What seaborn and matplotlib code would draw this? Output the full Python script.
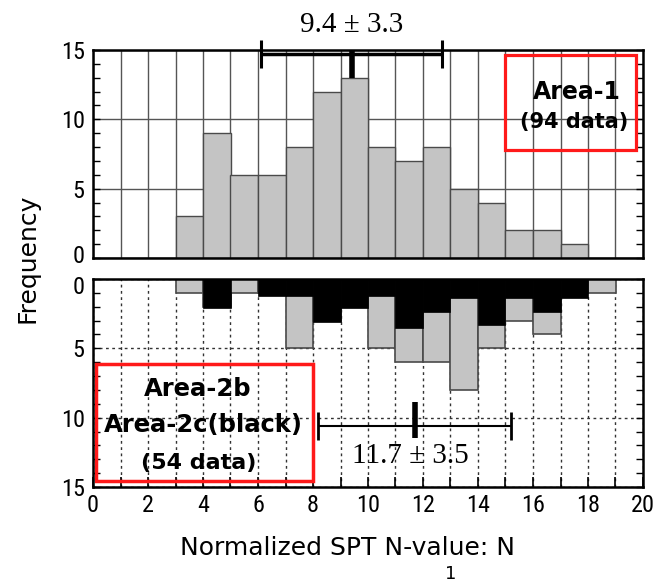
import numpy as np
import matplotlib
matplotlib.use("Agg")
import matplotlib.pyplot as plt
from matplotlib.patches import Rectangle
from matplotlib.ticker import MultipleLocator, FixedLocator
from matplotlib.transforms import ScaledTranslation
from matplotlib import font_manager as fm
import seaborn as sns

# ---------------- data ----------------
bin_edges = list(range(0, 21))
area1_counts = [0, 0, 0, 3, 9, 6, 6, 8, 12, 13, 8, 7, 8, 5, 4, 2, 2, 1, 0, 0]
area2_total = [0, 0, 0, 1, 2, 1, 1, 5, 3, 2, 5, 6, 6, 8, 5, 3, 4, 1, 1, 0]
area2c_black = [0, 0, 0, 0, 2.1, 0, 1.25, 1.2, 3.1, 2.1, 1.25, 3.55, 2.4, 1.4, 3.3, 1.4, 2.35, 1.4, 0, 0]
area1_mean, area1_sd = 9.4, 3.3
area2_mean, area2_sd = 11.7, 3.5
yticks = [0, 5, 10, 15]
xticks = list(range(0, 21, 2))

centers = [e + 0.5 for e in bin_edges[:-1]]

sns.set_style("white")
plt.rcParams['font.family'] = ['DejaVu Sans']
for k in ('text.color', 'axes.labelcolor', 'xtick.color', 'ytick.color'):
    plt.rcParams[k] = 'black'

# pick a narrow font for tick labels if one is installed
names = {f.name for f in fm.fontManager.ttflist}
narrow = None
for cand in ['Liberation Sans Narrow', 'Roboto Condensed', 'DejaVu Sans Condensed',
             'Open Sans Condensed', 'Noto Sans Display']:
    if cand in names:
        narrow = cand
        break
TICKFONT = [narrow, 'DejaVu Sans'] if narrow else ['DejaVu Sans']
condensed_ok = narrow is not None
SERIF = ['Liberation Serif', 'DejaVu Serif']
TICKSIZE = 17.5 if condensed_ok else 14

GRAY = '#c4c4c4'
EDGE = '#4a4a4a'

fig = plt.figure(figsize=(6.57, 5.82), dpi=100)
W, H = 657, 582
ax1 = fig.add_axes([93 / W, 1 - 258 / H, 550 / W, 208 / H])
ax2 = fig.add_axes([93 / W, 1 - 487 / H, 550 / W, 208 / H])

# ---------------- top panel ----------------
sns.histplot(x=centers, weights=area1_counts, bins=bin_edges, ax=ax1,
             color=GRAY, edgecolor=EDGE, linewidth=1.0, alpha=1)
ax1.set_xlim(0, 20)
ax1.set_ylim(0, 15)
ax1.set_axisbelow(True)
ax1.xaxis.set_major_locator(MultipleLocator(1))
ax1.yaxis.set_major_locator(FixedLocator(yticks))
ax1.yaxis.set_minor_locator(MultipleLocator(1))
ax1.grid(True, axis='both', which='major', color='#555555', lw=1.0, ls='-')
ax1.tick_params(axis='x', which='both', bottom=False, top=False, labelbottom=False)
ax1.tick_params(axis='y', which='both', direction='in', left=True, right=True,
                length=5, width=1, labelsize=TICKSIZE, pad=6)
ax1.set_xlabel('')
ax1.set_ylabel('')

eb = ax1.errorbar(area1_mean, 14.7, xerr=area1_sd, color='black', lw=2.5,
                  capsize=10, capthick=2.2, zorder=6)
for art in eb.lines[1] + eb.lines[2]:
    art.set_clip_on(False)
ax1.plot([area1_mean, area1_mean], [12.95, 15.0], color='black', lw=4,
         solid_capstyle='butt', clip_on=False, zorder=6)
ax1.text(area1_mean, 16.8, f'{area1_mean} ± {area1_sd}', ha='center', va='center',
         family=SERIF, fontsize=21, clip_on=False)

ax1.add_patch(Rectangle((15.0, 7.8), 4.75, 6.85, fill=False, ec='#ff1a1a', lw=2.3, zorder=7))
ax1.text(17.6, 12.0, 'Area-1', ha='center', va='center', fontsize=17, fontweight='bold', zorder=8)
ax1.text(17.5, 9.8, '(94 data)', ha='center', va='center', fontsize=15, fontweight='bold', zorder=8)

# ---------------- bottom panel ----------------
sns.histplot(x=centers, weights=area2_total, bins=bin_edges, ax=ax2,
             color=GRAY, edgecolor=EDGE, linewidth=1.2, alpha=1)
sns.histplot(x=centers, weights=area2c_black, bins=bin_edges, ax=ax2,
             color='black', edgecolor='black', linewidth=0.5, alpha=1)
ax2.set_xlim(0, 20)
ax2.set_ylim(15, 0)
ax2.set_axisbelow(True)
ax2.xaxis.set_major_locator(FixedLocator(xticks))
ax2.xaxis.set_minor_locator(MultipleLocator(1))
ax2.yaxis.set_major_locator(FixedLocator(yticks))
ax2.yaxis.set_minor_locator(MultipleLocator(1))
ax2.grid(True, axis='x', which='both', color='#333333', lw=1.0, ls=(0, (2, 2.5)))
ax2.grid(True, axis='y', which='major', color='#333333', lw=1.0, ls=(0, (2, 2.5)))
ax2.tick_params(axis='x', which='both', direction='in', bottom=True, top=False,
                length=7, width=1.2, labelsize=TICKSIZE, pad=5)
ax2.tick_params(axis='y', which='both', direction='in', left=True, right=True,
                length=5, width=1, labelsize=TICKSIZE, pad=6)
ax2.set_xlabel('')
ax2.set_ylabel('')

eb2 = ax2.errorbar(area2_mean, 10.6, xerr=area2_sd, color='black', lw=1.5,
                   capsize=10, capthick=2.0, zorder=6)
ax2.plot([area2_mean, area2_mean], [8.9, 11.5], color='black', lw=4,
         solid_capstyle='butt', zorder=6)
ax2.text(11.55, 12.8, f'{area2_mean} ± {area2_sd}', ha='center', va='center',
         family=SERIF, fontsize=21)

ax2.add_patch(Rectangle((0.1, 6.1), 7.9, 8.45, fill=False, ec='#ff1a1a', lw=2.5, zorder=7))
ax2.text(3.8, 7.9, 'Area-2b', ha='center', va='center', fontsize=17.5, fontweight='bold', zorder=8)
ax2.text(4.0, 10.5, 'Area-2c(black)', ha='center', va='center', fontsize=17.5, fontweight='bold', zorder=8)
ax2.text(3.85, 13.3, '(54 data)', ha='center', va='center', fontsize=16, fontweight='bold', zorder=8)

for ax in (ax1, ax2):
    for s in ax.spines.values():
        s.set_visible(True)
        s.set_linewidth(1.8)
        s.set_color('black')
        s.set_zorder(9)
    for lab in ax.get_xticklabels() + ax.get_yticklabels():
        lab.set_family(TICKFONT)

# nudge the two adjacent "0" labels apart, as in the reference
fig.canvas.draw()
for tick in ax1.yaxis.get_major_ticks():
    if abs(tick.get_loc()) < 1e-9:
        lab = tick.label1
        lab.set_transform(lab.get_transform() + ScaledTranslation(0, 3 / 72, fig.dpi_scale_trans))
for tick in ax2.yaxis.get_major_ticks():
    if abs(tick.get_loc()) < 1e-9:
        lab = tick.label1
        lab.set_transform(lab.get_transform() + ScaledTranslation(0, -4 / 72, fig.dpi_scale_trans))

fig.text(27 / W, 1 - 258 / H, 'Frequency', rotation=90, ha='center', va='center', fontsize=18)
fig.text(348 / W, 1 - 548 / H, 'Normalized SPT N-value: N', ha='center', va='center', fontsize=18)
fig.text(451 / W, 1 - 574 / H, '1', ha='center', va='center', fontsize=13)

fig.savefig('out.png', dpi=100)
